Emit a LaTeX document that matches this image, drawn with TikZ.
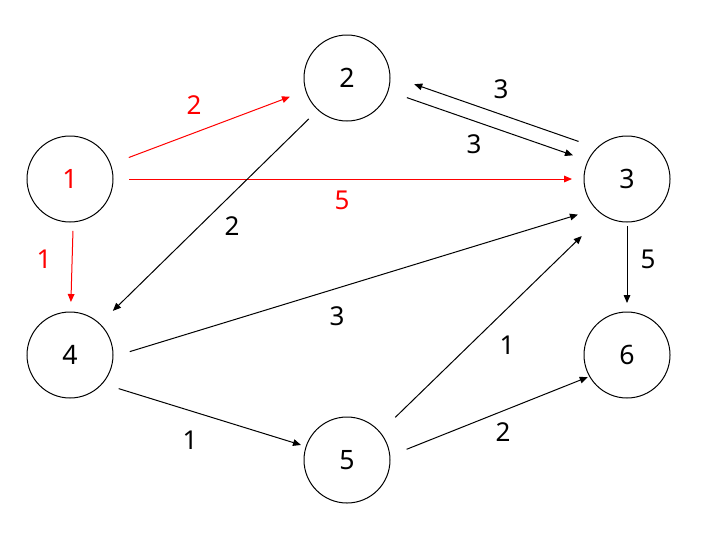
\documentclass[tikz,border=0pt]{standalone}
\usepackage{fontspec}
\setmainfont{Noto Sans}
\usetikzlibrary{arrows.meta}
\definecolor{redline}{RGB}{255,0,0}
\begin{document}
\begin{tikzpicture}[x=0.75pt,y=-0.75pt,
  vertex/.style={circle,draw,line width=0.75pt,minimum size=64.5pt,inner sep=0pt,outer sep=9pt,font=\fontsize{20}{24}\selectfont},
  edge/.style={line width=0.75pt,-{Triangle[length=6pt,width=5pt]}},
  redge/.style={edge,color=redline},
  wlabel/.style={inner sep=0pt,font=\fontsize{19.5}{23}\selectfont},
  rlabel/.style={wlabel,text=redline}]
\useasboundingbox (0,0) rectangle (705,536);
\node[vertex,text=redline] (n1) at (70,179) {1};
\node[vertex] (n2) at (347,78) {2};
\node[vertex] (n3) at (627,179) {3};
\node[vertex] (n4) at (70,355) {4};
\node[vertex] (n5) at (347,460) {5};
\node[vertex] (n6) at (627,355) {6};
% edges
\draw[redge,shorten <=5.7pt,shorten >=3.75pt] (n1.20) -- (n2.198);
\draw[redge,shorten <=3pt] (n1.0) -- (n3.180);
\draw[redge,shorten <=-2.25pt,shorten >=-1.5pt] (n1.273) -- (n4.89);
\draw[edge,shorten <=0.75pt,shorten >=4.9pt] (n2.227) -- (n4.46);
\draw[edge,shorten <=5pt,shorten >=9.75pt] (n3.140) -- (n2.358);
\draw[edge,shorten <=6pt,shorten >=3pt] (n2.342) -- (n3.156);
\draw[edge,shorten <=3.75pt,shorten >=4.5pt] (n4.2) -- (n3.218);
\draw[edge,shorten <=7.1pt,shorten >=13.5pt] (n5.41) -- (n3.234);
\draw[edge,shorten <=-6pt,shorten >=-2.25pt] (n3.270) -- (n6.90);
\draw[edge,shorten <=3.3pt,shorten >=-4.95pt] (n4.324) -- (n5.162);
\draw[edge,shorten <=4.3pt,shorten >=-7.5pt] (n5.9) -- (n6.208);
% weights
\node[rlabel] (w12) at (194,105) {2};
\node[rlabel] (w13) at (342,200) {5};
\node[rlabel] (w14) at (44,259) {1};
\node[wlabel] (w24) at (232,226) {2};
\node[wlabel] (w32) at (501,89) {3};
\node[wlabel] (w23) at (474,144) {3};
\node[wlabel] (w36) at (648,259) {5};
\node[wlabel] (w43) at (337,316) {3};
\node[wlabel] (w53) at (507,345) {1};
\node[wlabel] (w45) at (190,440) {1};
\node[wlabel] (w56) at (503,432) {2};
\end{tikzpicture}
\end{document}
